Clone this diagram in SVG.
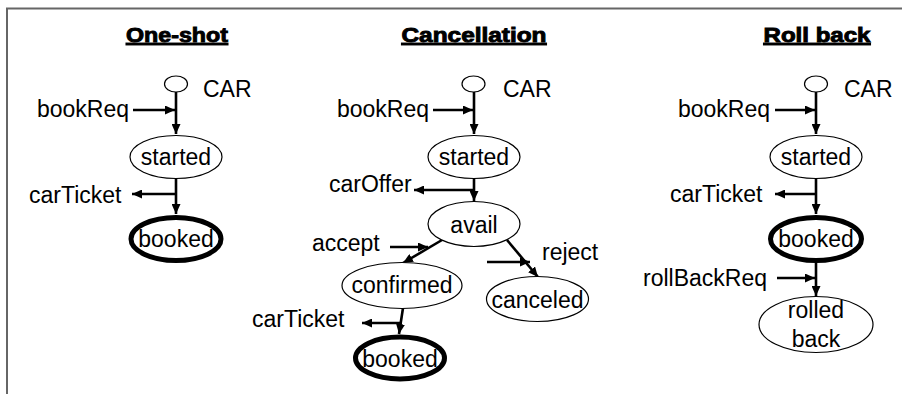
<svg xmlns="http://www.w3.org/2000/svg" width="902" height="394" viewBox="0 0 902 394">
<defs>
<style>
text{font-family:"Liberation Sans",Arial,sans-serif;font-size:23px;fill:#000}
.title{font-size:20px;font-weight:900;text-decoration:underline;text-anchor:middle;stroke:#000;stroke-width:0.9}
.c{text-anchor:middle}
.st{fill:#fff;stroke:#000;stroke-width:1.2}
.fin{fill:#fff;stroke:#000;stroke-width:5}
.ar{fill:none;stroke:#000;stroke-width:2.6;marker-end:url(#ah)}
</style>
<marker id="ah" markerUnits="userSpaceOnUse" markerWidth="11" markerHeight="9" refX="10" refY="4.5" orient="auto">
<path d="M0,0 L10,4.5 L0,9 z" fill="#000"/>
</marker>
</defs>
<rect width="902" height="394" fill="#fff"/>
<path d="M7,394 V8.5 H902" fill="none" stroke="#666" stroke-width="2"/>

<g id="titles">
<text class="title" x="177" y="42" textLength="102" lengthAdjust="spacingAndGlyphs">One-shot</text>
<text class="title" x="474" y="42" textLength="145" lengthAdjust="spacingAndGlyphs">Cancellation</text>
<text class="title" x="817" y="42" textLength="107" lengthAdjust="spacingAndGlyphs">Roll back</text>
</g>

<g id="connectors">
<path class="ar" d="M176,92 V134"/>
<path class="ar" d="M133,110 H175"/>
<path class="ar" d="M176,178 V214"/>
<path class="ar" d="M176,194 H132"/>
<path class="ar" d="M474,92 V134"/>
<path class="ar" d="M433,110 H473"/>
<path class="ar" d="M474,178 V201"/>
<path class="ar" d="M474,190 H414"/>
<path class="ar" d="M442,240 L403,263"/>
<path class="ar" d="M390,247 H428"/>
<path class="ar" d="M507,240 L538,277"/>
<path class="ar" d="M487,262 H530"/>
<path class="ar" d="M403,308 L399,334"/>
<path class="ar" d="M402,323 H362"/>
<path class="ar" d="M816,92 V134"/>
<path class="ar" d="M775,110 H815"/>
<path class="ar" d="M816,178 V214"/>
<path class="ar" d="M816,194 H775"/>
<path class="ar" d="M816,263 V296"/>
<path class="ar" d="M777,278 H815"/>
</g>

<g id="labels">
<text x="37" y="117">bookReq</text>
<text x="29" y="203">carTicket</text>
<text x="337" y="117">bookReq</text>
<text x="329" y="192">carOffer</text>
<text x="312" y="251">accept</text>
<text x="542" y="260">reject</text>
<text x="252" y="327">carTicket</text>
<text x="678" y="117">bookReq</text>
<text x="670" y="202">carTicket</text>
<text x="643" y="286">rollBackReq</text>
</g>

<g id="os-init"><ellipse class="st" cx="176" cy="84" rx="11.5" ry="8"/><text x="203" y="97">CAR</text></g>
<g id="os-started"><ellipse class="st" cx="176" cy="157" rx="46" ry="21.5"/><text class="c" x="176" y="165">started</text></g>
<g id="os-booked"><ellipse class="fin" cx="176" cy="239" rx="45" ry="21.5"/><text class="c" x="176" y="247">booked</text></g>

<g id="ca-init"><ellipse class="st" cx="473.5" cy="84" rx="11.5" ry="8"/><text x="503" y="97">CAR</text></g>
<g id="ca-started"><ellipse class="st" cx="474" cy="157" rx="46" ry="21.5"/><text class="c" x="474" y="165">started</text></g>
<g id="ca-avail"><ellipse class="st" cx="474" cy="224" rx="46" ry="22.5"/><text class="c" x="474" y="233">avail</text></g>
<g id="ca-confirmed"><ellipse class="st" cx="402" cy="285.5" rx="60" ry="23"/><text class="c" x="402" y="293">confirmed</text></g>
<g id="ca-canceled"><ellipse class="st" cx="537.5" cy="299" rx="51" ry="22.5"/><text class="c" x="537.5" y="308">canceled</text></g>
<g id="ca-booked"><ellipse class="fin" cx="400" cy="358" rx="44.5" ry="21"/><text class="c" x="400" y="367">booked</text></g>

<g id="rb-init"><ellipse class="st" cx="816" cy="84" rx="11.5" ry="8"/><text x="844" y="97">CAR</text></g>
<g id="rb-started"><ellipse class="st" cx="816" cy="157" rx="46" ry="21.5"/><text class="c" x="816" y="165">started</text></g>
<g id="rb-booked"><ellipse class="fin" cx="816" cy="239" rx="45.5" ry="21.5"/><text class="c" x="816" y="247">booked</text></g>
<g id="rb-rolledback"><ellipse class="st" cx="816" cy="324.5" rx="57" ry="28"/><text class="c" x="816" y="318">rolled</text><text class="c" x="816" y="347">back</text></g>
</svg>
